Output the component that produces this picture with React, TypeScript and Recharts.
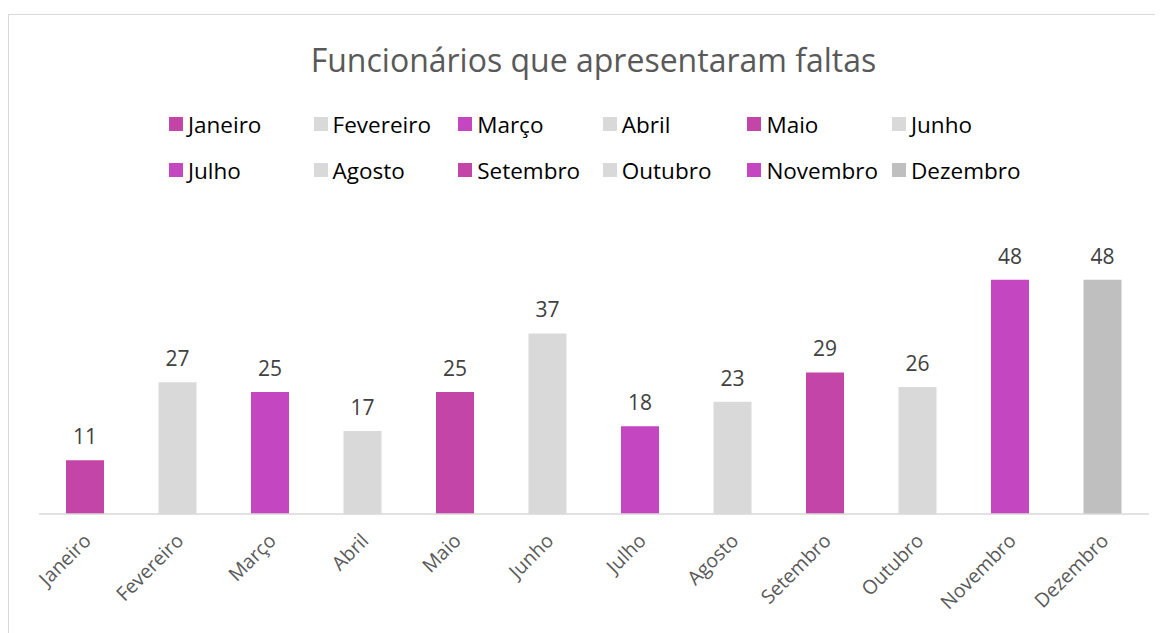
import React from 'react';
import { BarChart, Bar, XAxis, YAxis, Cell, LabelList } from 'recharts';

const chartTitle = 'Funcionários que apresentaram faltas';
const months = ['Janeiro', 'Fevereiro', 'Março', 'Abril', 'Maio', 'Junho', 'Julho', 'Agosto', 'Setembro', 'Outubro', 'Novembro', 'Dezembro'];
const faltas = [11, 27, 25, 17, 25, 37, 18, 23, 29, 26, 48, 48];
const barColors = ['#C345A8', '#D9D9D9', '#C447C1', '#D9D9D9', '#C345A8', '#D9D9D9', '#C447C1', '#D9D9D9', '#C345A8', '#D9D9D9', '#C447C1', '#BFBFBF'];
const yDomain = [0, 50];

const data = months.map((m, i) => ({ mes: m, valor: faltas[i] }));

const FONT = '"Open Sans", "Noto Sans", sans-serif';

const AngledTick = (props: any) => {
  const { x, y, payload } = props;
  const ax = x + 7;
  const ay = y + 20;
  return (
    <text
      x={ax}
      y={ay}
      transform={`rotate(-45, ${ax}, ${ay})`}
      textAnchor="end"
      fill="#595959"
      fontSize={19.5}
      fontFamily={FONT}
    >
      {payload.value}
    </text>
  );
};

export default function App() {
  return (
    <div
      style={{
        position: 'relative',
        width: 1151,
        height: 630,
        marginTop: 6,
        border: '1px solid #D9D9D9',
        fontFamily: FONT,
        background: '#fff',
      }}
    >
      <div
        style={{
          position: 'absolute',
          top: 25,
          left: 9,
          width: 1151,
          textAlign: 'center',
          fontSize: 32,
          color: '#595959',
          lineHeight: '40px',
        }}
      >
        {chartTitle}
      </div>
      {months.map((m, i) => {
        const col = i % 6;
        const row = Math.floor(i / 6);
        return (
          <div
            key={m}
            style={{
              position: 'absolute',
              left: 160 + col * 144.6,
              top: 94 + row * 46,
              display: 'flex',
              alignItems: 'center',
              height: 30,
              fontSize: 22.5,
              color: '#000',
              whiteSpace: 'nowrap',
            }}
          >
            <span style={{ display: 'inline-block', width: 14, height: 14, background: barColors[i], marginRight: 5 }} />
            {m}
          </div>
        );
      })}
      <BarChart
        width={1151}
        height={620}
        data={data}
        margin={{ top: 255, right: 11, bottom: 21, left: 30 }}
      >
        <XAxis
          dataKey="mes"
          axisLine={{ stroke: '#D9D9D9', strokeWidth: 1.5 }}
          tickLine={false}
          tick={<AngledTick />}
          interval={0}
          height={100}
        />
        <YAxis hide domain={yDomain} />
        <Bar dataKey="valor" barSize={38} isAnimationActive={false}>
          {data.map((d, i) => (
            <Cell key={d.mes} fill={barColors[i]} />
          ))}
          <LabelList dataKey="valor" position="top" offset={16} fill="#404040" fontSize={21} fontFamily={FONT} />
        </Bar>
      </BarChart>
    </div>
  );
}
